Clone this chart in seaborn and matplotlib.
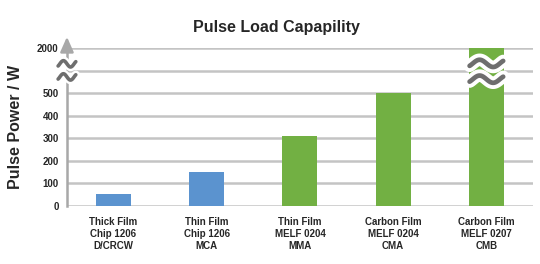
import matplotlib
matplotlib.use("Agg")
import matplotlib.pyplot as plt
import seaborn as sns
import pandas as pd
import numpy as np

categories = ["Thick Film\nChip 1206\nD/CRCW", "Thin Film\nChip 1206\nMCA",
              "Thin Film\nMELF 0204\nMMA", "Carbon Film\nMELF 0204\nCMA",
              "Carbon Film\nMELF 0207\nCMB"]
values = [53, 150, 310, 505, 2000]
bar_colors = ["#5b93cf", "#5b93cf", "#72b043", "#72b043", "#72b043"]
tick_values = [0, 100, 200, 300, 400, 500, 2000]
tick_labels = ["0", "100", "200", "300", "400", "500", "2000"]

def to_pos(v):
    # broken axis: 0-500 linear (100 per grid step), break, 2000 at step 7
    return v / 100.0 if v <= 500 else 5 + 2 * (v - 500) / 1500.0

df = pd.DataFrame({"cat": categories, "pos": [to_pos(v) for v in values]})

sns.set_style("white")
plt.rcParams["font.family"] = ["Liberation Sans", "DejaVu Sans"]

fig = plt.figure(figsize=(5.4, 2.64), dpi=100)
ax = fig.add_axes([0.124, 0.220, 0.863, 0.598])

sns.barplot(data=df, x="cat", y="pos", hue="cat", palette=bar_colors,
            legend=False, width=0.375, ax=ax, saturation=1)
for p in ax.patches:
    p.set_zorder(3)
    p.set_edgecolor("none")
    p.set_linewidth(0)

for g in range(8):
    ax.axhline(g, color="#c4c4c4", lw=1.8, zorder=1)

ax.set_xlim(-0.5, 4.5)
ax.set_ylim(0, 7)
ax.set_yticks([to_pos(v) for v in tick_values])
ax.set_yticklabels(tick_labels, fontsize=7, fontweight="bold")
ax.set_xticks(range(len(categories)))
ax.set_xticklabels(categories, fontsize=7, fontweight="bold", linespacing=1.25)
ax.tick_params(axis="both", length=0, pad=6)
ax.tick_params(axis="x", pad=8)
ax.set_xlabel("")
ax.set_ylabel("Pulse Power / W", fontsize=11.5, fontweight="bold", labelpad=10)

for s in ["top", "right", "bottom"]:
    ax.spines[s].set_visible(False)
ax.spines["left"].set_color("#a8a8a8")
ax.spines["left"].set_linewidth(1.8)
ax.spines["left"].set_zorder(4)

# arrow head at top of y axis
ax.annotate("", xy=(-0.5, 7.62), xytext=(-0.5, 6.95),
            arrowprops=dict(arrowstyle="-|>,head_length=0.9,head_width=0.4",
                            color="#a8a8a8", lw=1.8),
            annotation_clip=False, zorder=5)

# break symbols (wavy lines)
def tilde(xc, yc, half_w, amp, lw, under):
    t = np.linspace(-0.12, 1.12, 60)
    xs = xc - half_w + 2 * half_w * (t + 0.12) / 1.24
    ys = yc + amp * np.sin(2 * np.pi * t)
    ax.plot(xs, ys, color="white", lw=under, solid_capstyle="round",
            zorder=6, clip_on=False)
    ax.plot(xs, ys, color="#6e6e6e", lw=lw, solid_capstyle="round",
            zorder=7, clip_on=False)

for yc in (6.3, 5.72):
    tilde(-0.5, yc, 0.095, 0.14, 2.6, 6)
for yc in (6.32, 5.62):
    tilde(4.0, yc, 0.18, 0.16, 3.4, 9)

fig.text(0.512, 0.895, "Pulse Load Capapility", fontsize=11.5, fontweight="bold",
         ha="center", va="center")

fig.savefig("out.png", dpi=100, facecolor="white")
